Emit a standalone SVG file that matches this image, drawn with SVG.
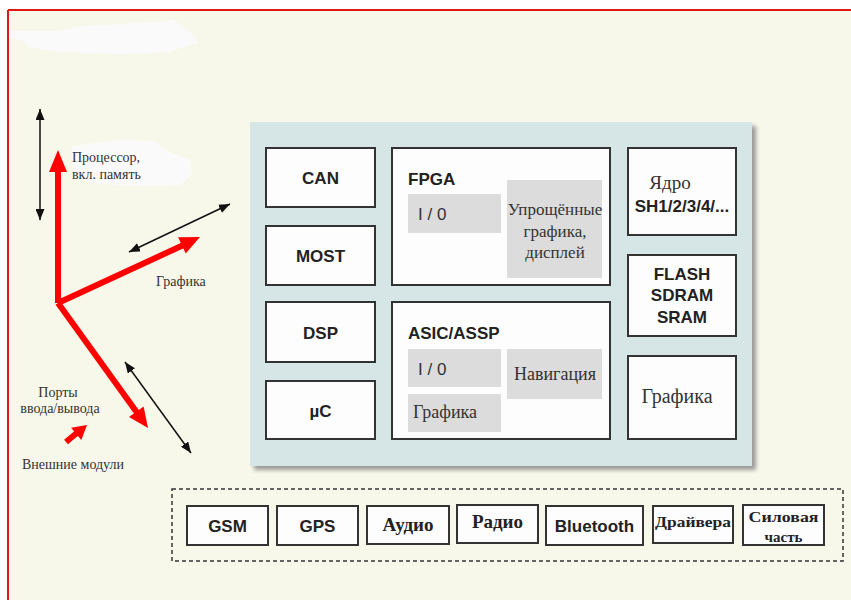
<svg xmlns="http://www.w3.org/2000/svg" width="851" height="600" viewBox="0 0 851 600">
<defs>
<style>
.box{fill:#fdfdfd;stroke:#333;stroke-width:2}
.sub{fill:#dcdcdc}
.sb{font-family:"Liberation Sans",Arial,sans-serif;font-weight:bold;font-size:17px;fill:#222}
.sr{font-family:"Liberation Sans",Arial,sans-serif;font-size:17px;fill:#333}
.se{font-family:"Liberation Serif","Times New Roman",serif;fill:#333}
.seb{font-family:"Liberation Serif","Times New Roman",serif;font-weight:bold;fill:#222}
.red{stroke:#ff0000;stroke-width:6;fill:none}
.redh{fill:#ff0000}
.blk{stroke:#111;stroke-width:1.5;fill:none;marker-end:url(#ah);marker-start:url(#ah)}
</style>
<marker id="ah" markerUnits="userSpaceOnUse" markerWidth="11" markerHeight="9" refX="11" refY="4.5" orient="auto-start-reverse">
<path d="M0,0 L11,4.5 L0,9 z" fill="#111"/>
</marker>
<filter id="sh" x="-5%" y="-5%" width="110%" height="110%"><feGaussianBlur stdDeviation="2"/></filter>
</defs>
<rect x="0" y="0" width="851" height="600" fill="#ffffff"/>
<rect x="8" y="10" width="843" height="590" fill="#f8f8ea"/>
<line x1="8" y1="10" x2="851" y2="10" stroke="#e01818" stroke-width="2"/>
<line x1="8" y1="10" x2="8" y2="600" stroke="#e01818" stroke-width="2"/>
<path d="M9,31 L60,31 L80,26 L125,24 L130,23 L165,22 L172,19 L185,28 L195,36 L198,43 L180,48 L170,52 L120,54 L60,52 L28,47 L22,40 L9,38 z" fill="#fafafa"/>
<path d="M72,146 L120,140 L155,141 L165,150 L190,160 L192,175 L180,185 L130,186 L92,183 L78,176 L72,165 z" fill="#fafafa"/>

<g id="left-arrows">
<line x1="58" y1="303" x2="58" y2="170" class="red"/>
<polygon points="58,150 49,172 67,172" class="redh"/>
<line x1="58" y1="303" x2="183.5" y2="245" class="red"/>
<polygon points="200,237 185.7,253.6 178.1,237.2" class="redh"/>
<line x1="58" y1="303" x2="138" y2="414" class="red"/>
<polygon points="148,428 143.6,406.5 129,417.1" class="redh"/>
<line x1="66" y1="442" x2="78" y2="432" class="red"/>
<polygon points="87,425 81.3,440.1 71.1,427.7" class="redh"/>
<line x1="40" y1="109" x2="40" y2="220" class="blk"/>
<line x1="129" y1="252" x2="230" y2="204" class="blk"/>
<line x1="125" y1="362" x2="191" y2="453" class="blk"/>
</g>
<g id="left-labels">
<text class="se" font-size="14" x="72" y="162">Процессор,</text>
<text class="se" font-size="14" x="72" y="179">вкл. память</text>
<text class="se" font-size="14" x="156" y="286">Графика</text>
<text class="se" font-size="14" x="58" y="397" text-anchor="middle">Порты</text>
<text class="se" font-size="14" x="60" y="413" text-anchor="middle">ввода/вывода</text>
<text class="se" font-size="14" x="22" y="469">Внешние модули</text>
</g>

<g id="panel">
<rect x="254" y="126" width="502" height="344" fill="#999" filter="url(#sh)"/>
<rect x="250" y="122" width="502" height="344" fill="#d6e6e6"/>
</g>
<g id="can"><rect class="box" x="266" y="148" width="109" height="59"/><text class="sb" x="320.5" y="184" text-anchor="middle">CAN</text></g>
<g id="most"><rect class="box" x="266" y="226" width="109" height="59"/><text class="sb" x="320.5" y="262" text-anchor="middle">MOST</text></g>
<g id="dsp"><rect class="box" x="266" y="302" width="109" height="60"/><text class="sb" x="320.5" y="339" text-anchor="middle">DSP</text></g>
<g id="uc"><rect class="box" x="266" y="381" width="109" height="58"/><text class="sb" x="320.5" y="417" text-anchor="middle">µC</text></g>
<g id="fpga">
<rect class="box" x="392" y="148" width="218" height="137"/>
<text class="sb" x="408" y="185">FPGA</text>
<rect class="sub" x="408" y="194" width="93" height="39"/>
<text class="sr" x="418" y="220">I / 0</text>
<rect class="sub" x="507" y="180" width="95" height="98"/>
<text class="se" font-size="17" x="555" y="215" text-anchor="middle">Упрощённые</text>
<text class="se" font-size="17" x="555" y="237" text-anchor="middle">графика,</text>
<text class="se" font-size="17" x="555" y="258" text-anchor="middle">дисплей</text>
</g>
<g id="asic">
<rect class="box" x="392" y="302" width="218" height="137"/>
<text class="sb" x="408" y="339">ASIC/ASSP</text>
<rect class="sub" x="408" y="349" width="93" height="38"/>
<text class="sr" x="418" y="375">I / 0</text>
<rect class="sub" x="408" y="394" width="93" height="38"/>
<text class="se" font-size="18" x="413" y="418">Графика</text>
<rect class="sub" x="507" y="349" width="95" height="50"/>
<text class="se" font-size="18" x="555" y="380" text-anchor="middle">Навигация</text>
</g>
<g id="core">
<rect class="box" x="628" y="148" width="108" height="87"/>
<text class="se" font-size="19" x="670" y="189" text-anchor="middle">Ядро</text>
<text class="sb" font-size="16" x="682" y="212" text-anchor="middle">SH1/2/3/4/...</text>
</g>
<g id="memory">
<rect class="box" x="628" y="255" width="108" height="81"/>
<text class="sb" x="682" y="280" text-anchor="middle">FLASH</text>
<text class="sb" x="682" y="301" text-anchor="middle">SDRAM</text>
<text class="sb" x="682" y="323" text-anchor="middle">SRAM</text>
</g>
<g id="graphics">
<rect class="box" x="628" y="356" width="108" height="83"/>
<text class="se" font-size="20" x="677" y="403" text-anchor="middle">Графика</text>
</g>

<g id="external">
<rect x="172" y="489" width="671" height="72" fill="none" stroke="#333" stroke-width="1.5" stroke-dasharray="4,3"/>
</g>
<g id="gsm"><rect class="box" x="187" y="506" width="81" height="39"/><text class="sb" x="227.5" y="532" text-anchor="middle">GSM</text></g>
<g id="gps"><rect class="box" x="277" y="506" width="81" height="39"/><text class="sb" x="317.5" y="532" text-anchor="middle">GPS</text></g>
<g id="audio"><rect class="box" x="367" y="506" width="82" height="38"/><text class="seb" font-size="19" x="408" y="531" text-anchor="middle">Аудио</text></g>
<g id="radio"><rect class="box" x="457" y="505" width="81" height="38"/><text class="seb" font-size="19" x="497.5" y="528" text-anchor="middle">Радио</text></g>
<g id="bluetooth"><rect class="box" x="546" y="506" width="97" height="39"/><text class="sb" x="594.5" y="532" text-anchor="middle">Bluetooth</text></g>
<g id="drivers"><rect class="box" x="653" y="506" width="80" height="37"/><text class="seb" font-size="15" x="693" y="527" text-anchor="middle" textLength="76" lengthAdjust="spacingAndGlyphs">Драйвера</text></g>
<g id="power"><rect class="box" x="743" y="505" width="81" height="40"/><text class="seb" font-size="15" x="783.5" y="522" text-anchor="middle" textLength="70" lengthAdjust="spacingAndGlyphs">Силовая</text><text class="seb" font-size="15" x="783.5" y="542" text-anchor="middle">часть</text></g>
</svg>
